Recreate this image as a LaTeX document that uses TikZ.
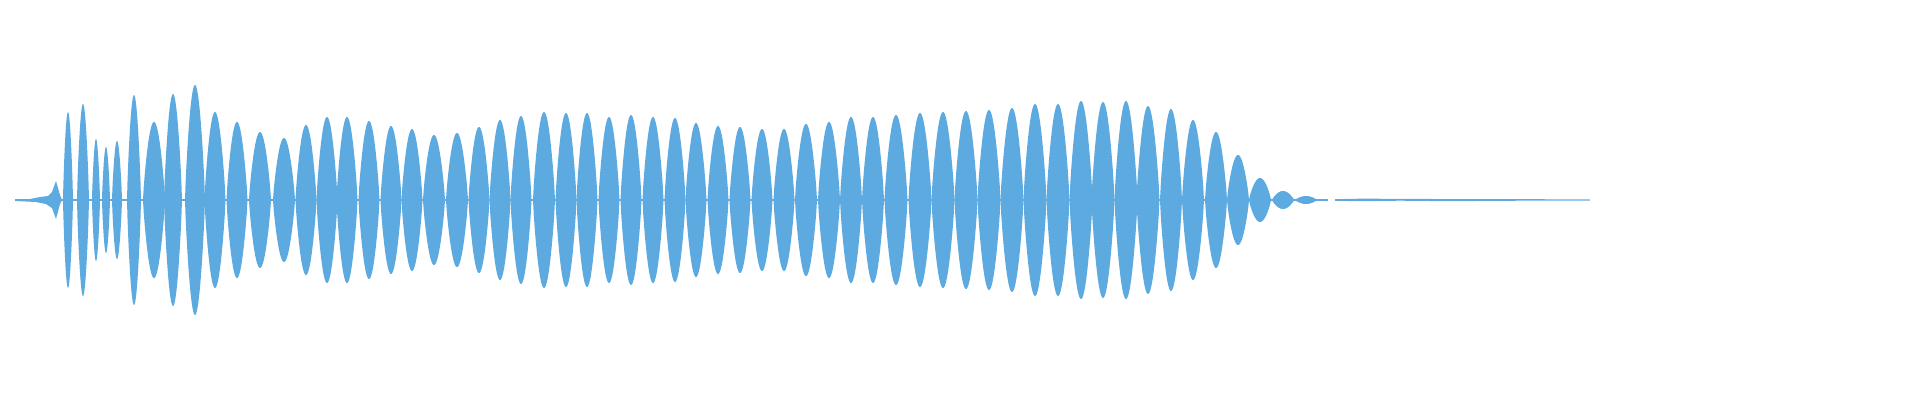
\documentclass[tikz,border=0pt]{standalone}
\definecolor{wave}{HTML}{5DAAE0}
\begin{document}
\begin{tikzpicture}[x=1pt,y=1pt,lobe/.style={fill=wave,draw=none}]
\useasboundingbox (0,0) rectangle (1920,400);
\coordinate (o) at (0,200);
% base line through the burst
\fill[wave] (15,199) rectangle (1328,201.5);
% quiet lead-in
\fill[wave] (15,200.5) -- (30,201) -- (40,203) -- (48,204) -- (52,208) -- (56,219) -- (60,205) -- (62,200)
  -- (60,196) -- (56,181) -- (52,192) -- (46,196) -- (36,198) -- (15,199) -- cycle;
\foreach \c/\w/\h in {68/5/88,83/6/96,96/4/61,106/4/53,117/5/59,134/7/105,154/11/78,173/9/106,195/10/115,
 215/10.5/88,237/10.5/78,260/11/68,284/11/62,306/10.5/75,327/10.5/83,347/10.5/83,369/10.5/79,391/10.5/74,
 412/10.5/71,434/11/65,457/11/67,479/10.5/73,500/10.5/80,521/10.5/84,544/11/88,566/10.5/87,587/10.5/87,
 609/10.5/83,631/10.5/85,653/10.5/83,675/10.5/82,696/10.5/77,718/10.5/74,740/10.5/73,762/10.5/71,
 784/10.5/71,806/11/76,829/11/78,851/11/83,873/11/83,896/11.5/85,920/11.5/87,943/11.5/88,966/11.5/89,
 989/11.5/90,1012/11.5/92,1035/11.5/96,1058/11.5/96,1081/11.5/99,1103/11.5/98,1126/11.5/99,1148/11.5/94,
 1171/11/91,1193/11/80,1216/11/68,1238/11/45,1260/11/22,1283/11/9,1306/11/4}
{
  \fill[lobe] plot[domain=-\w:\w,samples=31] ({\c+\x},{200+\h*pow(abs(cos(90*\x/\w)),0.8)})
    -- plot[domain=\w:-\w,samples=31] ({\c+\x},{200-\h*pow(abs(cos(90*\x/\w)),0.8)}) -- cycle;
}
% trailing quiet line
\fill[wave] (1335,199.2) -- (1360,198.8) -- (1400,199.3) -- (1450,198.8) -- (1500,199.2) -- (1590,199.5)
  -- (1590,200.5) -- (1500,201) -- (1450,200.9) -- (1400,201.2) -- (1360,201.3) -- (1335,200.8) -- cycle;
\end{tikzpicture}
\end{document}
